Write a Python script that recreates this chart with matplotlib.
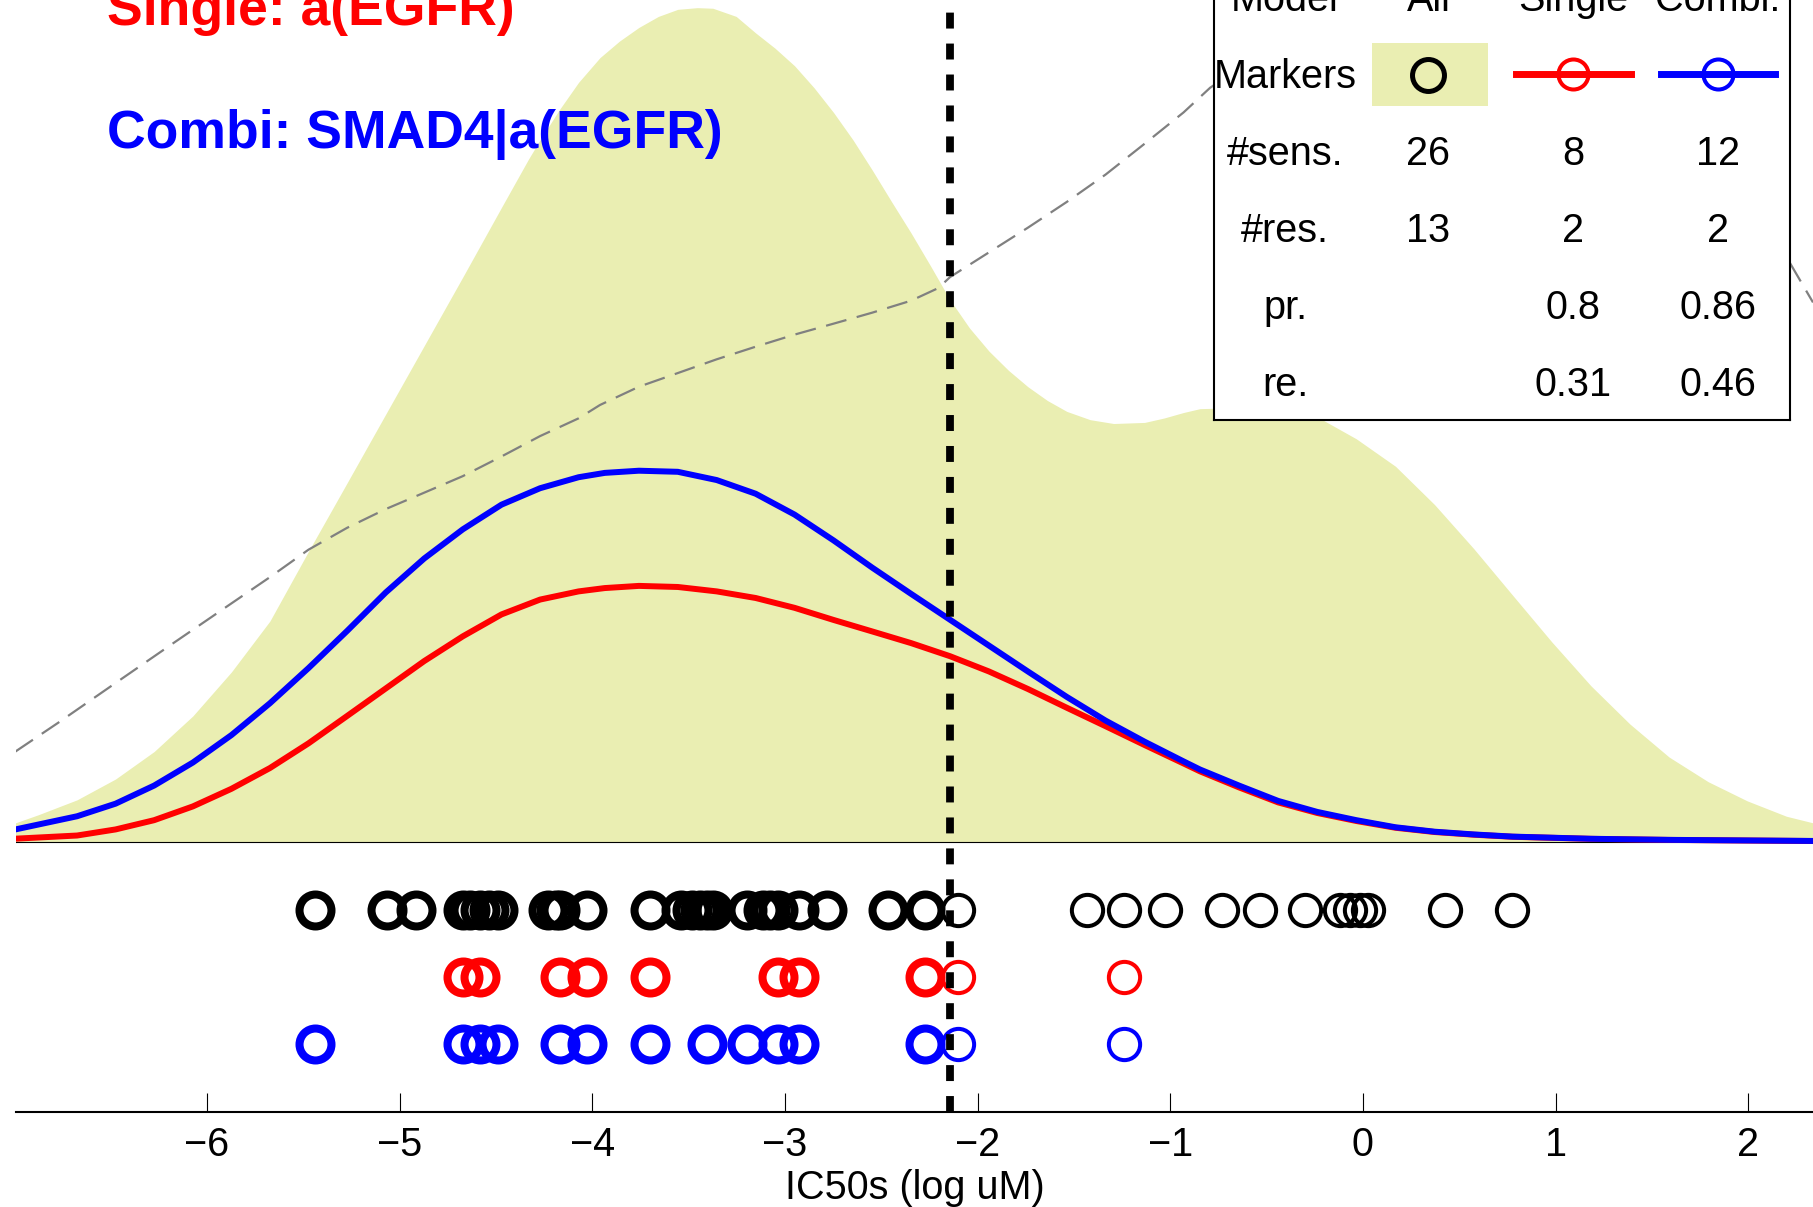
import matplotlib
matplotlib.use("Agg")
import matplotlib.pyplot as plt
from matplotlib.patches import Rectangle

plt.rcParams["font.family"] = ["Liberation Sans", "DejaVu Sans"]

# IC50s (log uM) of all cell lines and those picked up by each model
all_ic50 = [
    -5.439, -5.066, -4.915, -4.671, -4.635, -4.583, -4.536, -4.490, -4.230,
    -4.189, -4.168, -4.028, -3.701, -3.540, -3.483, -3.441, -3.405, -3.374,
    -3.197, -3.114, -3.078, -3.036, -2.927, -2.782, -2.465, -2.273,
    -2.100, -1.434, -1.240, -1.028, -0.733, -0.534, -0.301, -0.119, -0.067,
    -0.015, 0.028, 0.426, 0.772,
]
single_ic50 = [-4.671, -4.583, -4.168, -4.028, -3.701, -3.036, -2.927, -2.273, -2.100, -1.240]
combi_ic50 = [
    -5.439, -4.671, -4.583, -4.490, -4.168, -4.028, -3.701, -3.405, -3.197,
    -3.036, -2.927, -2.273, -2.100, -1.240,
]
threshold = -2.145

# density of all IC50s (height scaled so its peak is 1)
dens_x = [
    -6.994, -6.874, -6.674, -6.474, -6.274, -6.073, -5.873, -5.673, -5.473,
    -5.272, -5.072, -4.872, -4.672, -4.471, -4.331, -4.271, -4.171, -4.071,
    -3.960, -3.859, -3.758, -3.657, -3.556, -3.455, -3.374, -3.253, -3.152,
    -3.051, -2.950, -2.849, -2.748, -2.647, -2.547, -2.446, -2.345, -2.244,
    -2.143, -2.042, -1.941, -1.840, -1.739, -1.638, -1.537, -1.416, -1.294,
    -1.133, -1.032, -0.931, -0.846, -0.643, -0.440, -0.237, -0.034, 0.169,
    0.372, 0.575, 0.777, 0.980, 1.183, 1.386, 1.589, 1.792, 1.995, 2.198, 2.336,
]
dens_all = [
    0.0230, 0.0328, 0.0506, 0.0756, 0.1085, 0.1512, 0.2039, 0.2650, 0.3485,
    0.4308, 0.5130, 0.5952, 0.6774, 0.7610, 0.8188, 0.8419, 0.8780, 0.9109,
    0.9405, 0.9603, 0.9767, 0.9899, 0.9984, 1.0004, 0.9997, 0.9899, 0.9701,
    0.9517, 0.9307, 0.9044, 0.8748, 0.8419, 0.8057, 0.7675, 0.7301, 0.6906,
    0.6500, 0.6163, 0.5886, 0.5656, 0.5459, 0.5294, 0.5163, 0.5064, 0.5018,
    0.5031, 0.5084, 0.5150, 0.5196, 0.5209, 0.5176, 0.5097, 0.4834, 0.4505,
    0.4045, 0.3518, 0.2959, 0.2400, 0.1874, 0.1414, 0.1019, 0.0723, 0.0493, 0.0309, 0.0230,
]

# model densities, same scale
curve_x = [
    -6.994, -6.674, -6.474, -6.274, -6.073, -5.873, -5.673, -5.473, -5.272,
    -5.072, -4.872, -4.672, -4.471, -4.271, -4.071, -3.935, -3.758, -3.556,
    -3.354, -3.152, -2.950, -2.748, -2.547, -2.345, -2.143, -1.941, -1.739,
    -1.537, -1.335, -1.133, -0.931, -0.846, -0.643, -0.440, -0.237, -0.034,
    0.169, 0.372, 0.575, 0.777, 1.183, 1.589, 2.336,
]
dens_single = [
    0.0040, 0.0078, 0.0151, 0.0262, 0.0427, 0.0638, 0.0887, 0.1183, 0.1512,
    0.1841, 0.2170, 0.2466, 0.2729, 0.2907, 0.3005, 0.3045, 0.3071, 0.3058,
    0.3005, 0.2926, 0.2808, 0.2663, 0.2525, 0.2385, 0.2228, 0.2045, 0.1835,
    0.1610, 0.1388, 0.1163, 0.0942, 0.0848, 0.0655, 0.0475, 0.0348, 0.0252,
    0.0171, 0.0120, 0.0088, 0.0063, 0.0038, 0.0025, 0.0012,
]
dens_combi = [
    0.0151, 0.0309, 0.0460, 0.0677, 0.0953, 0.1282, 0.1664, 0.2085, 0.2532,
    0.2992, 0.3400, 0.3749, 0.4045, 0.4242, 0.4374, 0.4426, 0.4452, 0.4439,
    0.4340, 0.4176, 0.3926, 0.3617, 0.3290, 0.2975, 0.2665, 0.2355, 0.2045,
    0.1740, 0.1455, 0.1203, 0.0967, 0.0870, 0.0677, 0.0493, 0.0361, 0.0262,
    0.0177, 0.0124, 0.0091, 0.0065, 0.0039, 0.0026, 0.0013,
]

# grey dashed curve
gray_x = [
    -6.994, -6.774, -6.474, -6.173, -5.873, -5.673, -5.473, -5.272, -5.072,
    -4.872, -4.672, -4.471, -4.271, -4.071, -3.960, -3.758, -3.556, -3.354,
    -3.152, -2.950, -2.748, -2.547, -2.345, -2.203, -2.143, -1.941, -1.739,
    -1.537, -1.335, -1.133, -0.931, -0.793, -0.500, -0.200, 0.200, 0.700,
    1.200, 1.750, 2.217, 2.336,
]
gray_y = [
    0.1085, 0.1427, 0.1907, 0.2387, 0.2861, 0.3176, 0.3505, 0.3768, 0.3992,
    0.4189, 0.4387, 0.4623, 0.4867, 0.5080, 0.5240, 0.5459, 0.5623, 0.5788,
    0.5939, 0.6084, 0.6215, 0.6347, 0.6491, 0.6643, 0.6774, 0.7070, 0.7366,
    0.7675, 0.8004, 0.8373, 0.8748, 0.9044, 0.950, 0.985, 1.000, 0.975,
    0.910, 0.810, 0.694, 0.647,
]

row_labels = ["Model", "Markers", "#sens.", "#res.", "pr.", "re."]
col_labels = ["All", "Single", "Combi."]
n_sens = ["26", "8", "12"]
n_res = ["13", "2", "2"]
precision = ["", "0.8", "0.86"]
recall = ["", "0.31", "0.46"]

FILL = "#eaeeb2"
RED = (1, 0, 0)
BLUE = (0, 0, 1)

W, H = 1813, 1207
fig = plt.figure(figsize=(W / 100, H / 100), dpi=100)
ax = fig.add_axes([16 / W, 95 / H, 1797 / W, 1112 / H])

ax.fill_between(dens_x, 0, dens_all, color=FILL, lw=0, zorder=1)
ax.axhline(0, color="k", lw=0.8, zorder=1.5)
ax.plot(gray_x, gray_y, color=(0.5, 0.5, 0.5), lw=1.6, dashes=(9.5, 4.8), zorder=2)
ax.plot(curve_x, dens_single, color=RED, lw=4.3, zorder=3)
ax.plot(curve_x, dens_combi, color=BLUE, lw=4.3, zorder=3.1)

rows = [(all_ic50, "k", -0.0815), (single_ic50, RED, -0.1619), (combi_ic50, BLUE, -0.2422)]
for values, color, ypos in rows:
    sens = [v for v in values if v < threshold]
    res = [v for v in values if v >= threshold]
    ax.plot(sens, [ypos] * len(sens), "o", mfc="none", mec=color, ms=23, mew=5.8, zorder=4)
    ax.plot(res, [ypos] * len(res), "o", mfc="none", mec=color, ms=22.5, mew=2.9, zorder=4)

ax.axvline(threshold, color="k", lw=5.6, dashes=(2.05, 1.93), zorder=5)

ax.text(-6.519, 0.9796, "Single: a(EGFR)", color=RED, fontsize=38.5,
        fontweight="bold", va="baseline", ha="left")
ax.text(-6.519, 0.8325, "Combi: SMAD4|a(EGFR)", color=BLUE, fontsize=38.5,
        fontweight="bold", va="baseline", ha="left")

ax.set_xlim(-6.991, 2.336)
ax.set_ylim(-0.3237, 1.00959)
ax.set_xticks(range(-6, 3))
ax.set_yticks([])
for side in ["left", "right", "top"]:
    ax.spines[side].set_visible(False)
ax.spines["bottom"].set_linewidth(1.5)
ax.tick_params(axis="x", direction="in", length=14, width=0.8, labelsize=28.5, pad=10)
ax.set_xlabel("IC50s (log uM)", fontsize=28.5, labelpad=4)
ax.patch.set_alpha(0)

# summary table in the upper right
lax = fig.add_axes([1213.7 / W, (H - 420) / H, 575.8 / W, 460 / H])
lax.set_xlim(0, 1)
lax.set_ylim(5.47, -0.503)
lax.set_xticks([])
lax.set_yticks([])
for sp in lax.spines.values():
    sp.set_linewidth(1.5)
    sp.set_color("k")

col_x = [0.124, 0.373, 0.624, 0.876]
base = 0.16
fs = 28.5
for r, lab in enumerate(row_labels):
    lax.text(col_x[0], r + base, lab, fontsize=fs, ha="center", va="baseline")
for c, lab in enumerate(col_labels):
    lax.text(col_x[c + 1], base, lab, fontsize=fs, ha="center", va="baseline")
    lax.text(col_x[c + 1], 2 + base, n_sens[c], fontsize=fs, ha="center", va="baseline")
    lax.text(col_x[c + 1], 3 + base, n_res[c], fontsize=fs, ha="center", va="baseline")
    lax.text(col_x[c + 1], 4 + base, precision[c], fontsize=fs, ha="center", va="baseline")
    lax.text(col_x[c + 1], 5 + base, recall[c], fontsize=fs, ha="center", va="baseline")

lax.add_patch(Rectangle((0.275, 0.575), 0.201, 0.819, color=FILL, lw=0))
lax.plot([col_x[1]], [0.99], "o", mfc="none", mec="k", ms=23, mew=3.6)
lax.plot([0.525, 0.725], [0.978, 0.978], color=RED, lw=5)
lax.plot([col_x[2]], [0.978], "o", mfc="none", mec=RED, ms=21.6, mew=2.9)
lax.plot([0.776, 0.974], [0.978, 0.978], color=BLUE, lw=5)
lax.plot([col_x[3]], [0.978], "o", mfc="none", mec=BLUE, ms=21.6, mew=2.9)

fig.savefig("out.png", dpi=100)
